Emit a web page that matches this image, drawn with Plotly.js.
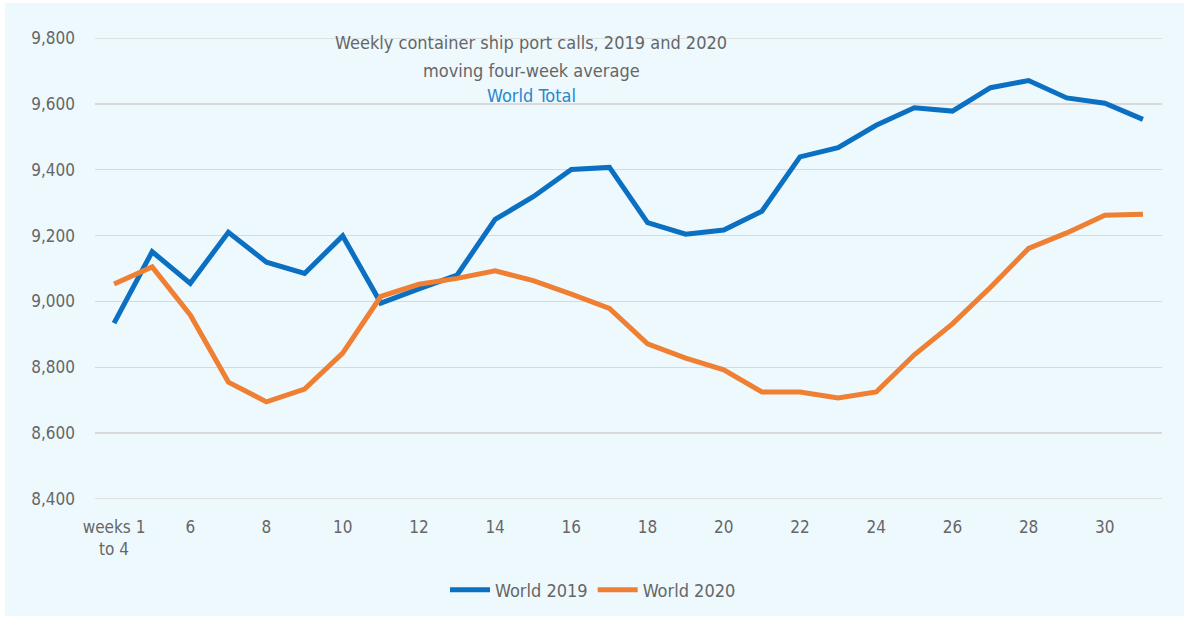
<!DOCTYPE html>
<html>
<head>
<meta charset="utf-8">
<script src="https://cdn.plot.ly/plotly-3.0.1.min.js"></script>
<style>
  html, body { margin: 0; padding: 0; background: #ffffff; }
  #chart { position: absolute; left: 5px; top: 3px; width: 1179px; height: 613px; }
</style>
</head>
<body>
<div id="chart"></div>
<script>
// Categories (weeks)
const weeks = ["weeks 1<br>to 4", "5", "6", "7", "8", "9", "10", "11", "12", "13", "14", "15", "16", "17",
               "18", "19", "20", "21", "22", "23", "24", "25", "26", "27", "28", "29", "30", "31"];
// Tick labels shown on the axis
const tickWeeks = ["weeks 1<br>to 4", "6", "8", "10", "12", "14", "16", "18", "20", "22", "24", "26", "28", "30"];
// Y axis range
const yMin = 8400, yMax = 9800;
// Series values
const world2019 = [8934, 9151, 9055, 9210, 9119, 9085, 9199, 8995, 9038, 9080, 9249, 9318, 9401, 9407,
                   9239, 9204, 9217, 9274, 9439, 9467, 9535, 9588, 9578, 9649, 9671, 9618, 9602, 9553];
const world2020 = [9053, 9105, 8959, 8755, 8695, 8734, 8843, 9015, 9052, 9070, 9093, 9063, 9022, 8979,
                   8871, 8828, 8792, 8725, 8725, 8707, 8725, 8838, 8932, 9043, 9161, 9208, 9262, 9265];

const FONT = "'Liberation Sans Narrow', 'DejaVu Sans Condensed', 'Arial Narrow', sans-serif";
const BG = "#eef9fe";
const GRID = "#d9d9d9";

const traces = [
  { x: weeks, y: world2019, type: "scatter", mode: "lines", name: "World 2019",
    line: { color: "#0b70c1", width: 5 } },
  { x: weeks, y: world2020, type: "scatter", mode: "lines", name: "World 2020",
    line: { color: "#ee7f33", width: 5 } }
];

const edgeLine = v => ({ type: "line", xref: "paper", yref: "y", x0: 0, x1: 1, y0: v, y1: v,
                         line: { color: GRID, width: 1.5 }, layer: "below" });

const layout = {
  width: 1179, height: 613,
  paper_bgcolor: BG, plot_bgcolor: BG,
  margin: { l: 90, r: 22, t: 34.5, b: 116.5, autoexpand: false },
  font: { family: FONT, size: 17, color: "#666666" },
  showlegend: true,
  legend: { orientation: "h", xref: "container", yref: "container",
            x: 588 / 1179, xanchor: "center", y: 26 / 613, yanchor: "middle",
            font: { family: FONT, size: 18, color: "#666666" }, bgcolor: "rgba(0,0,0,0)",
            itemwidth: 40, traceorder: "normal" },
  xaxis: {
    type: "category", range: [-0.5, 27.5],
    tickmode: "array", tickvals: tickWeeks, ticktext: tickWeeks,
    showgrid: false, zeroline: false, showline: false, ticks: "",
    ticklabelstandoff: 16,
    tickfont: { family: FONT, size: 17, color: "#666666" }
  },
  yaxis: {
    range: [yMin, yMax], dtick: 200, tick0: yMin,
    tickformat: ",d", showgrid: true, gridcolor: GRID, gridwidth: 1.5,
    zeroline: false, showline: false, ticks: "",
    ticklabelstandoff: 19,
    tickfont: { family: FONT, size: 17, color: "#666666" }
  },
  shapes: [edgeLine(yMin), edgeLine(yMax)],
  annotations: [
    { xref: "paper", yref: "paper", x: (531 - 95) / 1067, y: 0.99, xanchor: "center", yanchor: "middle",
      text: "Weekly container ship port calls, 2019 and 2020", showarrow: false,
      font: { family: FONT, size: 18, color: "#666666" } },
    { xref: "paper", yref: "paper", x: (531 - 95) / 1067, y: 0.93, xanchor: "center", yanchor: "middle",
      text: "moving four-week average", showarrow: false,
      font: { family: FONT, size: 18, color: "#666666" } },
    { xref: "paper", yref: "paper", x: (531 - 95) / 1067, y: 0.875, xanchor: "center", yanchor: "middle",
      text: "World Total", showarrow: false,
      font: { family: FONT, size: 18, color: "#2a86cc" } }
  ]
};

Plotly.newPlot("chart", traces, layout, { displayModeBar: false, staticPlot: true });
</script>
</body>
</html>
